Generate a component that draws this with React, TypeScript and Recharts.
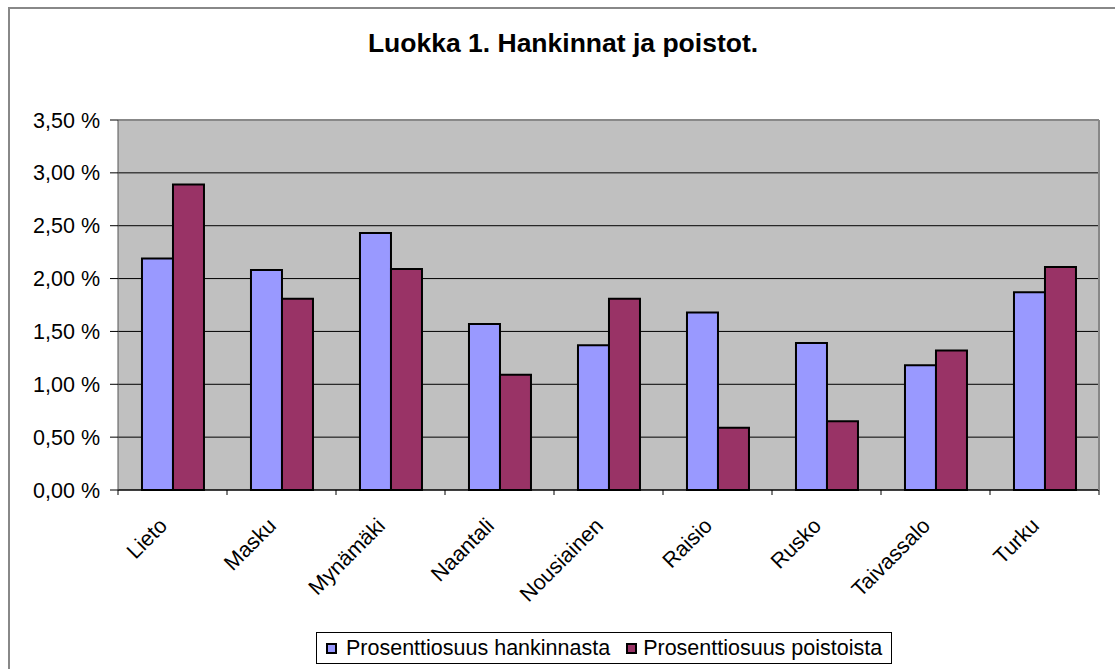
import { BarChart, Bar, XAxis, YAxis, CartesianGrid, Legend } from 'recharts';

const kunnat = ['Lieto', 'Masku', 'Mynämäki', 'Naantali', 'Nousiainen', 'Raisio', 'Rusko', 'Taivassalo', 'Turku'];
const hankinnasta = [2.19, 2.08, 2.43, 1.57, 1.37, 1.68, 1.39, 1.18, 1.87];
const poistoista = [2.89, 1.81, 2.09, 1.09, 1.81, 0.59, 0.65, 1.32, 2.11];
const yTicks = [0, 0.5, 1, 1.5, 2, 2.5, 3, 3.5];

const FONT = 'Arial, "Liberation Sans", sans-serif';

const data = kunnat.map((name, i) => ({
    name,
    hankinnasta: hankinnasta[i],
    poistoista: poistoista[i],
}));

const formatPct = (v: number) => v.toFixed(2).replace('.', ',') + ' %';

// label at the category centre, tick marks on the category boundaries (Excel style)
const XTick = ({ x, y, payload, index, visibleTicksCount }: any) => {
    const half = payload.offset || 0;
    const last = index === visibleTicksCount - 1;
    return (
        <g>
            <line x1={x - half} x2={x - half} y1={y} y2={y + 5} stroke="#000" />
            {last && <line x1={x + half} x2={x + half} y1={y} y2={y + 5} stroke="#000" />}
            <g transform={`translate(${x - 4},${y + 37}) rotate(-45)`}>
                <text textAnchor="end" fontSize={21.5} fill="#000" fontFamily={FONT}>
                    {payload.value}
                </text>
            </g>
        </g>
    );
};

const Swatch = ({ color }: { color: string }) => (
    <span style={{ display: 'inline-block', width: 7, height: 7, border: '2px solid #000', background: color }} />
);

const LegendBox = () => (
    <div
        style={{
            border: '1px solid #000',
            background: '#fff',
            display: 'flex',
            alignItems: 'center',
            height: 30,
            padding: '0 9px',
            fontFamily: FONT,
            fontSize: 21.5,
            whiteSpace: 'nowrap',
        }}
    >
        <Swatch color="#9999ff" />
        <span style={{ marginLeft: 9, marginRight: 16 }}>Prosenttiosuus hankinnasta</span>
        <Swatch color="#993366" />
        <span style={{ marginLeft: 6 }}>Prosenttiosuus poistoista</span>
    </div>
);

const App = () => {
    return (
        <div style={{ position: 'fixed', left: 0, top: 0, width: 1115, height: 669, background: '#fff', overflow: 'hidden' }}>
            {/* outer chart frame */}
            <div
                style={{
                    position: 'absolute',
                    left: 8,
                    top: 7,
                    width: 1120,
                    height: 700,
                    border: '2px solid #888',
                    boxSizing: 'border-box',
                }}
            />
            <div
                style={{
                    position: 'absolute',
                    left: 0,
                    width: 1126,
                    top: 28,
                    textAlign: 'center',
                    fontFamily: FONT,
                    fontWeight: 'bold',
                    fontSize: 26.5,
                }}
            >
                Luokka 1. Hankinnat ja poistot.
            </div>
            <div style={{ position: 'absolute', left: 0, top: 0 }}>
                <BarChart
                    width={1115}
                    height={669}
                    data={data}
                    margin={{ top: 119, right: 15, bottom: 0, left: 0 }}
                    barGap={0}
                    barCategoryGap="22%"
                >
                    <CartesianGrid vertical={false} fill="#c0c0c0" stroke="#000" />
                    <XAxis
                        dataKey="name"
                        height={179}
                        interval={0}
                        tick={<XTick />}
                        tickLine={false}
                        axisLine={{ stroke: '#000' }}
                        tickSize={0}
                        tickMargin={0}
                    />
                    <XAxis xAxisId="top" orientation="top" dataKey="name" height={1} tick={false} tickLine={false} axisLine={{ stroke: '#888', strokeWidth: 2 }} />
                    <YAxis
                        width={118}
                        domain={[0, 3.5]}
                        ticks={yTicks}
                        tickFormatter={formatPct}
                        tick={{ fontSize: 21.5, fill: '#000', fontFamily: FONT }}
                        tickLine={{ stroke: '#000' }}
                        axisLine={{ stroke: '#555' }}
                        tickSize={8}
                        tickMargin={10}
                        interval={0}
                    />
                    <YAxis yAxisId="right" orientation="right" width={1} tick={false} tickLine={false} axisLine={{ stroke: '#888', strokeWidth: 2 }} />
                    <Legend
                        verticalAlign="middle"
                        align="center"
                        content={<LegendBox />}
                        wrapperStyle={{ position: 'absolute', left: 316, top: 632, width: 'auto' }}
                    />
                    <Bar dataKey="hankinnasta" name="Prosenttiosuus hankinnasta" fill="#9999ff" stroke="#000" strokeWidth={2} isAnimationActive={false} />
                    <Bar dataKey="poistoista" name="Prosenttiosuus poistoista" fill="#993366" stroke="#000" strokeWidth={2} isAnimationActive={false} />
                </BarChart>
            </div>
        </div>
    );
};

export default App;
